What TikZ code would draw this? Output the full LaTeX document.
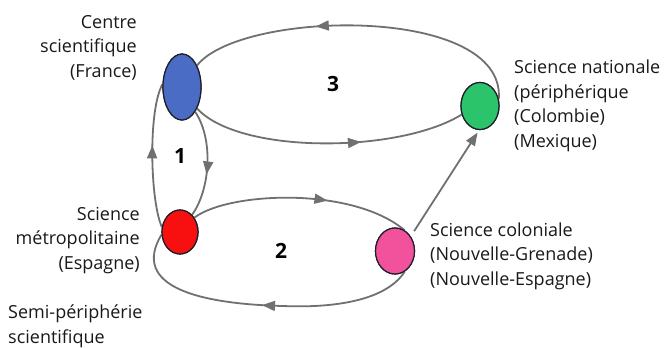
\documentclass[tikz,border=0pt]{standalone}
\usepackage{fontspec}
\setmainfont{Open Sans}
\usetikzlibrary{shapes.geometric,arrows.meta,decorations.markings}
\definecolor{flow}{HTML}{707070}
\definecolor{rim}{HTML}{1E1E2A}
\definecolor{cblue}{HTML}{4A6CC4}
\definecolor{cgreen}{HTML}{2BC46A}
\definecolor{cred}{HTML}{F81010}
\definecolor{cpink}{HTML}{F2529C}
\tikzset{
  pole/.style={ellipse, draw=rim, line width=1.2pt, inner sep=0pt},
  link/.style={draw=flow, line width=1.8pt},
  tipat/.style={postaction={decorate,decoration={markings,
     mark=at position #1 with {\arrow[flow]{Triangle[length=13pt,width=10pt]}}}}},
  lbl/.style={font=\fontsize{18}{24.5}\selectfont, inner sep=0pt, text=black!90},
  num/.style={font=\fontsize{21}{24}\selectfont\bfseries, inner sep=0pt},
}
\begin{document}
\begin{tikzpicture}[x=1pt,y=-1pt]
\useasboundingbox (0,0) rectangle (666,348);

% the four poles
\node[pole, fill=cblue,  minimum width=38pt, minimum height=66pt] (fr) at (182,87) {};
\node[pole, fill=cgreen, minimum width=38pt, minimum height=47pt] (co) at (480,106) {};
\node[pole, fill=cred,   minimum width=36pt, minimum height=44pt] (es) at (180,232) {};
\node[pole, fill=cpink,  minimum width=39pt, minimum height=46pt] (ng) at (395,251) {};

% circuit 3: France <-> national science
\path[link, tipat=0.63] (co.20) .. controls (506,4) and (240,10) .. (fr.55);
\path[link, tipat=0.62] (fr.-55) .. controls (240,155) and (400,153) .. (co.205);

% circuit 1: France <-> Spain
\path[link, tipat=0.57] (es.165) .. controls (150,200) and (148,110) .. (fr.172);
\path[link, tipat=0.6] (fr.-62) .. controls (214,140) and (210,190) .. (es.55);

% circuit 2: Spain <-> colonial science
\path[link, tipat=0.62] (es.45) .. controls (228,192) and (352,186) .. (ng.65);
\path[link, tipat=0.5] (ng.-65) .. controls (385,302) and (330,308) .. (283,306)
      .. controls (200,304) and (130,287) .. (es.188);

% colonial -> national
\draw[link, -{Triangle[length=13pt,width=10pt]}, shorten >=3pt]
      ([shift={(5pt,3pt)}]ng.50) -- (co.-92);

% redraw poles on top of the links
\node[pole, fill=cblue,  minimum width=38pt, minimum height=66pt] at (fr) {};
\node[pole, fill=cgreen, minimum width=38pt, minimum height=47pt] at (co) {};
\node[pole, fill=cred,   minimum width=36pt, minimum height=44pt] at (es) {};
\node[pole, fill=cpink,  minimum width=39pt, minimum height=46pt] at (ng) {};

% circuit numbers
\node[num] (n3) at (333,84) {3};
\node[num] (n1) at (180,156) {1};
\node[num] (n2) at (281,251) {2};

% labels (anchored at the baseline of their last line)
\node[lbl, align=right, anchor=base east] (lfr) at (137,77)
  {Centre\\scientifique\\(France)};
\node[lbl, align=left, anchor=base west] (lco) at (514,147)
  {Science nationale\\(périphérique\\(Colombie)\\(Mexique)};
\node[lbl, align=right, anchor=base east] (les) at (140,269)
  {Science\\métropolitaine\\(Espagne)};
\node[lbl, align=left, anchor=base west] (lng) at (430,285)
  {Science coloniale\\(Nouvelle-Grenade)\\(Nouvelle-Espagne)};
\node[lbl, align=left, anchor=base west] (lsp) at (8,343)
  {Semi-périphérie\\scientifique};
\end{tikzpicture}
\end{document}
